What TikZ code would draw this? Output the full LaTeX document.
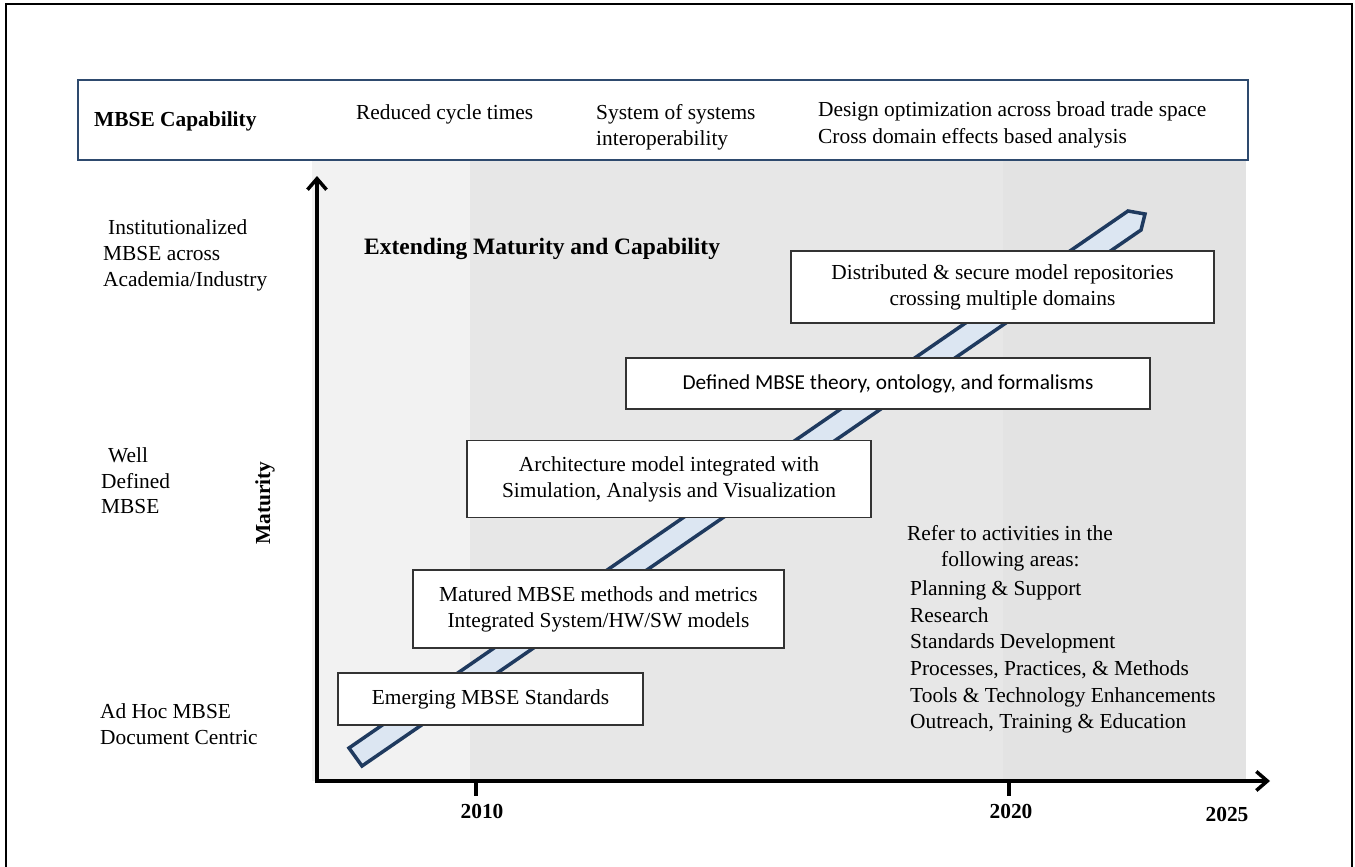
\documentclass[tikz,border=0pt]{standalone}
\usepackage{fontspec}
\setmainfont{Liberation Serif}
\newfontfamily\calibrifont{Carlito}
\usetikzlibrary{arrows.meta}

\definecolor{bandlight}{HTML}{F2F2F2}
\definecolor{bandmid}{HTML}{E7E7E7}
\definecolor{banddark}{HTML}{E3E3E3}
\definecolor{capline}{HTML}{2E4A6E}
\definecolor{ribbonfill}{HTML}{DCE6F2}
\definecolor{ribbonline}{HTML}{1F3A5F}
\definecolor{boxline}{HTML}{333333}

\tikzset{
  txt/.style={font=\fontsize{21.4}{26}\selectfont, inner sep=0pt, anchor=base west},
  btxt/.style={txt, font=\fontsize{21.4}{26}\selectfont\bfseries},
  yeartxt/.style={btxt, anchor=base},
  milestone/.style={draw=boxline, line width=1.2pt, fill=white, inner sep=0pt,
    align=center, font=\fontsize{21.4}{26}\selectfont},
  axisline/.style={line width=3.5pt, line join=miter,
    {Straight Barb[length=11pt,width=19pt]}-{Straight Barb[length=11pt,width=19pt]}},
  tickline/.style={line width=3.5pt}
}

\begin{document}
\begin{tikzpicture}[x=1pt,y=-1pt]
\useasboundingbox (0,0) rectangle (1355,867);

% page frame (open at the bottom)
\draw[line width=1.2pt] (6,880) -- (6,4) -- (1352,4) -- (1352,880);

% shaded time bands
\fill[bandlight] (312,160) rectangle (470,781);
\fill[bandmid]   (470,160) rectangle (1003,781);
\fill[banddark]  (1003,160) rectangle (1246,781);

% capability banner
\node[draw=capline, line width=1.2pt, fill=white, minimum width=1170pt, minimum height=80pt,
      inner sep=0pt] (banner) at (663,120) {};
\node[btxt] (capt) at (94,126) {MBSE Capability};
\node[txt] (cap1) at (356,119) {Reduced cycle times};
\node[txt] (cap2a) at (596,119) {System of systems};
\node[txt] (cap2b) at (596,145) {interoperability};
\node[txt] (cap3a) at (818,117) {Design optimization across broad trade space};
\node[txt] (cap3b) at (818,143) {Cross domain effects based analysis};

% maturity levels
\node[txt] (lvl3a) at (108,234) {Institutionalized};
\node[txt] (lvl3b) at (103,260) {MBSE across};
\node[txt] (lvl3c) at (103,286) {Academia/Industry};
\node[txt] (lvl2a) at (108,462) {Well};
\node[txt] (lvl2b) at (101,488) {Defined};
\node[txt] (lvl2c) at (101,513) {MBSE};
\node[txt] (lvl1a) at (100,718) {Ad Hoc MBSE};
\node[txt] (lvl1b) at (100,744) {Document Centric};
\node[btxt, anchor=center, rotate=90] (ylabel) at (265,503) {Maturity};

% growth ribbon
\draw[ribbonline, fill=ribbonfill, line width=3.5pt, line join=miter]
  (349,748) -- (1128,211) -- (1145,214) -- (1141,230) -- (362,766) -- cycle;

\node[btxt, font=\fontsize{23.5}{28}\selectfont\bfseries] (title) at (364,254)
  {Extending Maturity and Capability};

% milestones
\node[milestone, minimum width=423pt, minimum height=72pt] (m5) at (1002.5,287)
  {Distributed \& secure model repositories\\crossing multiple domains};
\node[milestone, minimum width=524pt, minimum height=51pt, font=\fontsize{21.3}{26}\calibrifont] (m4) at (888,383.5)
  {Defined MBSE theory, ontology, and formalisms};
\node[milestone, minimum width=404pt, minimum height=77pt] (m3) at (669,479)
  {Architecture model integrated with\\Simulation, Analysis and Visualization};
\node[milestone, minimum width=371pt, minimum height=78pt] (m2) at (598.5,609)
  {Matured MBSE methods and metrics\\Integrated System/HW/SW models};
\node[milestone, minimum width=305pt, minimum height=52pt] (m1) at (490.5,699)
  {Emerging MBSE Standards};

% activity areas
\node[txt] (ref1) at (907,540) {Refer to activities in the};
\node[txt] (ref2) at (941,566) {following areas:};
\node[txt] (act1) at (910,595) {Planning \& Support};
\node[txt] (act2) at (910,622) {Research};
\node[txt] (act3) at (910,648) {Standards Development};
\node[txt] (act4) at (910,675) {Processes, Practices, \& Methods};
\node[txt] (act5) at (910,702) {Tools \& Technology Enhancements};
\node[txt] (act6) at (910,728) {Outreach, Training \& Education};

% axes
\coordinate (origin) at (317,781);
\coordinate (ytip) at (317,176);
\coordinate (xtip) at (1270,781);
\draw[axisline] (ytip) -- (origin) -- (xtip);

\coordinate (t2010) at (476,781);
\coordinate (t2020) at (1009,781);
\draw[tickline] (t2010) -- ++(0,15);
\draw[tickline] (t2020) -- ++(0,15);
\node[yeartxt] (y2010) at (482,818) {2010};
\node[yeartxt] (y2020) at (1011,818) {2020};
\node[yeartxt] (y2025) at (1227,821) {2025};
\end{tikzpicture}
\end{document}
